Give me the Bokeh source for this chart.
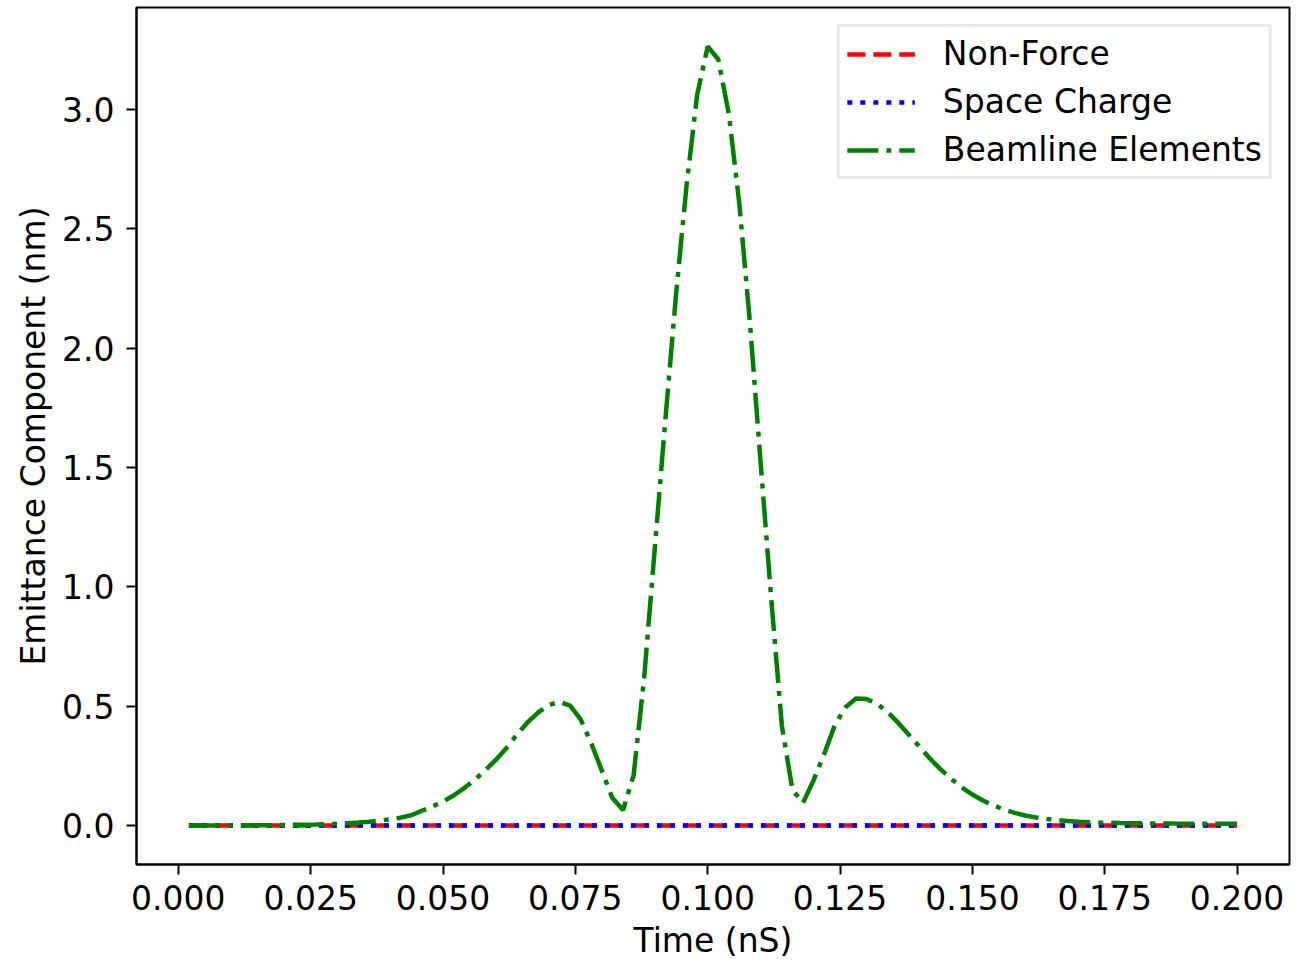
from bokeh.plotting import figure
from bokeh.models import Range1d, FixedTicker, NumeralTickFormatter, Legend, LegendItem
from bokeh.embed import file_html
from bokeh.resources import INLINE

# ---- data ----
time_ns = [
    0.002, 0.004, 0.006, 0.008, 0.010, 0.012, 0.014, 0.016, 0.018, 0.020,
    0.022, 0.024, 0.026, 0.028, 0.030, 0.032, 0.034, 0.036, 0.038, 0.040,
    0.042, 0.044, 0.046, 0.048, 0.050, 0.052, 0.054, 0.056, 0.058, 0.060,
    0.062, 0.064, 0.066, 0.068, 0.070, 0.072, 0.074, 0.076, 0.078, 0.080,
    0.082, 0.084, 0.086, 0.088, 0.090, 0.092, 0.094, 0.096, 0.098, 0.100,
    0.102, 0.104, 0.106, 0.108, 0.110, 0.112, 0.114, 0.116, 0.118, 0.120,
    0.122, 0.124, 0.126, 0.128, 0.130, 0.132, 0.134, 0.136, 0.138, 0.140,
    0.142, 0.144, 0.146, 0.148, 0.150, 0.152, 0.154, 0.156, 0.158, 0.160,
    0.162, 0.164, 0.166, 0.168, 0.170, 0.172, 0.174, 0.176, 0.178, 0.180,
    0.182, 0.184, 0.186, 0.188, 0.190, 0.192, 0.194, 0.196, 0.198, 0.200,
]

non_force = [0.0] * 100
space_charge = [0.0] * 100

beamline_elements = [
    0.0000, 0.0000, 0.0001, 0.0002, 0.0003, 0.0005, 0.0008, 0.0012, 0.0017, 0.0023,
    0.0030, 0.0038, 0.0048, 0.0060, 0.0078, 0.0100, 0.0128, 0.0162, 0.0205, 0.0260,
    0.0330, 0.0430, 0.0620, 0.0800, 0.1000, 0.1260, 0.1570, 0.1920, 0.2320, 0.2760,
    0.3250, 0.3820, 0.4330, 0.4740, 0.5050, 0.5180, 0.5020, 0.4450, 0.3450, 0.2300,
    0.1150, 0.0650, 0.2100, 0.6200, 1.1600, 1.7000, 2.2200, 2.6800, 3.0600, 3.2640,
    3.2100, 2.9800, 2.6000, 2.1000, 1.5200, 0.9500, 0.4200, 0.1500, 0.0950, 0.1900,
    0.3000, 0.4200, 0.4950, 0.5320, 0.5300, 0.5100, 0.4750, 0.4300, 0.3800, 0.3300,
    0.2800, 0.2350, 0.1950, 0.1600, 0.1300, 0.1050, 0.0840, 0.0670, 0.0530, 0.0420,
    0.0340, 0.0280, 0.0230, 0.0190, 0.0160, 0.0140, 0.0125, 0.0113, 0.0104, 0.0097,
    0.0092, 0.0088, 0.0085, 0.0082, 0.0080, 0.0078, 0.0076, 0.0075, 0.0074, 0.0073,
]

x_ticks = [0.000, 0.025, 0.050, 0.075, 0.100, 0.125, 0.150, 0.175, 0.200]
y_ticks = [0.0, 0.5, 1.0, 1.5, 2.0, 2.5, 3.0]

series_labels = ["Non-Force", "Space Charge", "Beamline Elements"]

FONT = "DejaVu Sans"
FS = "33px"

p = figure(
    width=1291, height=963,
    x_range=Range1d(-0.0079, 0.2099),
    y_range=Range1d(-0.1632, 3.4272),
    output_backend="svg", toolbar_location=None, title=None,
    min_border_left=136, min_border_right=2, min_border_top=7, min_border_bottom=99,
    background_fill_color="white", border_fill_color="white",
)

p.xgrid.visible = False
p.ygrid.visible = False
p.outline_line_color = "black"
p.outline_line_width = 2
p.outline_line_alpha = 1.0

r1 = p.line(time_ns, non_force, line_color="#ff0000", line_width=4.5, line_dash="18 8")
r2 = p.line(time_ns, space_charge, line_color="#0000ff", line_width=4.5, line_dash="5 8")
r3 = p.line(time_ns, beamline_elements, line_color="#008000", line_width=4.5, line_dash="31 8 5 8")

for ax in (p.xaxis[0], p.yaxis[0]):
    ax.axis_line_width = 2
    ax.axis_line_color = "black"
    ax.major_tick_line_width = 2
    ax.major_tick_line_color = "black"
    ax.major_tick_out = 10
    ax.major_tick_in = 0
    ax.minor_tick_out = 0
    ax.minor_tick_in = 0
    ax.major_label_text_font = FONT
    ax.major_label_text_font_size = FS
    ax.major_label_text_color = "black"
    ax.axis_label_text_font = FONT
    ax.axis_label_text_font_size = FS
    ax.axis_label_text_font_style = "normal"
    ax.axis_label_text_color = "black"

p.xaxis.ticker = FixedTicker(ticks=x_ticks)
p.xaxis.formatter = NumeralTickFormatter(format="0.000")
p.xaxis.axis_label = "Time (nS)"
p.xaxis.major_label_standoff = 10
p.xaxis.axis_label_standoff = 8

p.yaxis.ticker = FixedTicker(ticks=y_ticks)
p.yaxis.formatter = NumeralTickFormatter(format="0.0")
p.yaxis.axis_label = "Emittance Component (nm)"
p.yaxis.major_label_standoff = 12
p.yaxis.axis_label_standoff = 6

legend = Legend(
    items=[
        LegendItem(label=series_labels[0], renderers=[r1]),
        LegendItem(label=series_labels[1], renderers=[r2]),
        LegendItem(label=series_labels[2], renderers=[r3]),
    ],
    location="top_right", margin=17,
    border_line_color="#d6d6d6", border_line_width=3,
    background_fill_color="white", background_fill_alpha=0.8,
    label_text_font=FONT, label_text_font_size=FS, label_text_color="black",
    glyph_width=68, glyph_height=36, label_standoff=28,
    padding=7, spacing=9,
)
p.add_layout(legend)

open("out.html", "w").write(file_html(p, INLINE))
